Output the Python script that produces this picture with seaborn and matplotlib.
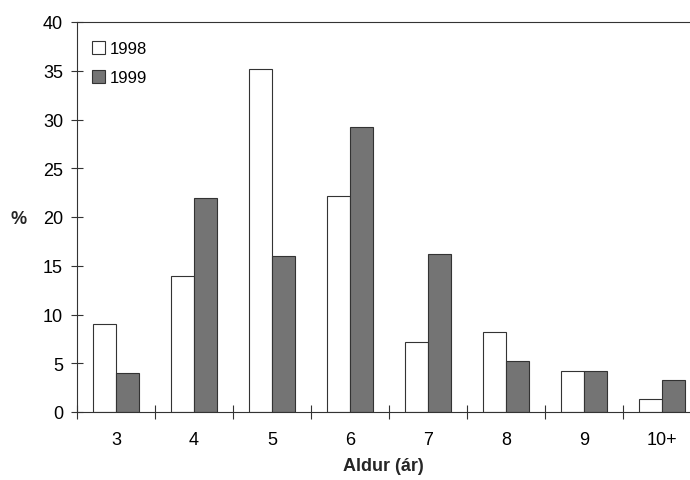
import pandas as pd
import numpy as np
import seaborn as sns
import matplotlib.pyplot as plt
from matplotlib.ticker import FixedLocator

# ---------------------- Data ----------------------------------------------
ages = ["3", "4", "5", "6", "7", "8", "9", "10+"]
pct_1998 = [9.0, 14.0, 35.2, 22.2, 7.2, 8.2, 4.2, 1.3]
pct_1999 = [4.0, 22.0, 16.0, 29.2, 16.2, 5.2, 4.2, 3.3]
years = ["1998", "1999"]

df = pd.DataFrame({
    "age": ages * 2,
    "pct": pct_1998 + pct_1999,
    "year": [years[0]] * len(ages) + [years[1]] * len(ages),
})

# ---------------------- Plot ----------------------------------------------
sns.set_style("white")
plt.rcParams['font.family'] = ['Liberation Sans', 'DejaVu Sans']
plt.rcParams['text.color'] = 'black'
plt.rcParams['xtick.color'] = 'black'
plt.rcParams['ytick.color'] = 'black'

fig = plt.figure(figsize=(6.9, 4.81), dpi=100)
ax = fig.add_axes([77 / 690, 68 / 481, 1 - 77 / 690, 390 / 481])

sns.barplot(data=df, x="age", y="pct", hue="year", order=ages, hue_order=years,
            palette=["white", "#747474"], width=0.58, ax=ax, legend=True)

for patch in ax.patches:
    patch.set_edgecolor("#333333")
    patch.set_linewidth(0.8)

ax.set_xlim(-0.5, 7.36)
ax.set_ylim(0, 40)
ax.set_yticks(range(0, 41, 5))
ax.tick_params(axis="y", left=True, direction="inout", length=8, width=0.8,
               labelsize=13, pad=6, color="#333333")
ax.tick_params(axis="x", which="major", bottom=False, length=0, labelsize=13, pad=14)
ax.xaxis.set_minor_locator(FixedLocator(np.arange(-0.5, 7.5, 1.0)))
ax.tick_params(axis="x", which="minor", bottom=True, direction="inout", length=10,
               width=0.8, color="#333333")

for side in ["left", "bottom", "top"]:
    ax.spines[side].set_visible(True)
    ax.spines[side].set_color("#333333")
    ax.spines[side].set_linewidth(0.8)
ax.spines["right"].set_visible(False)

ax.set_xlabel("Aldur (ár)", fontsize=13, fontweight="bold", labelpad=6)
ax.set_ylabel("%", fontsize=13, fontweight="bold", rotation=0)
ax.yaxis.set_label_coords(-0.095, 0.475)

ax.legend(loc="upper left", frameon=False, fontsize=12, handlelength=0.8,
          handleheight=0.8, handletextpad=0.25, labelspacing=0.85,
          bbox_to_anchor=(0.0, 0.99))

fig.savefig("out.png", dpi=100)
